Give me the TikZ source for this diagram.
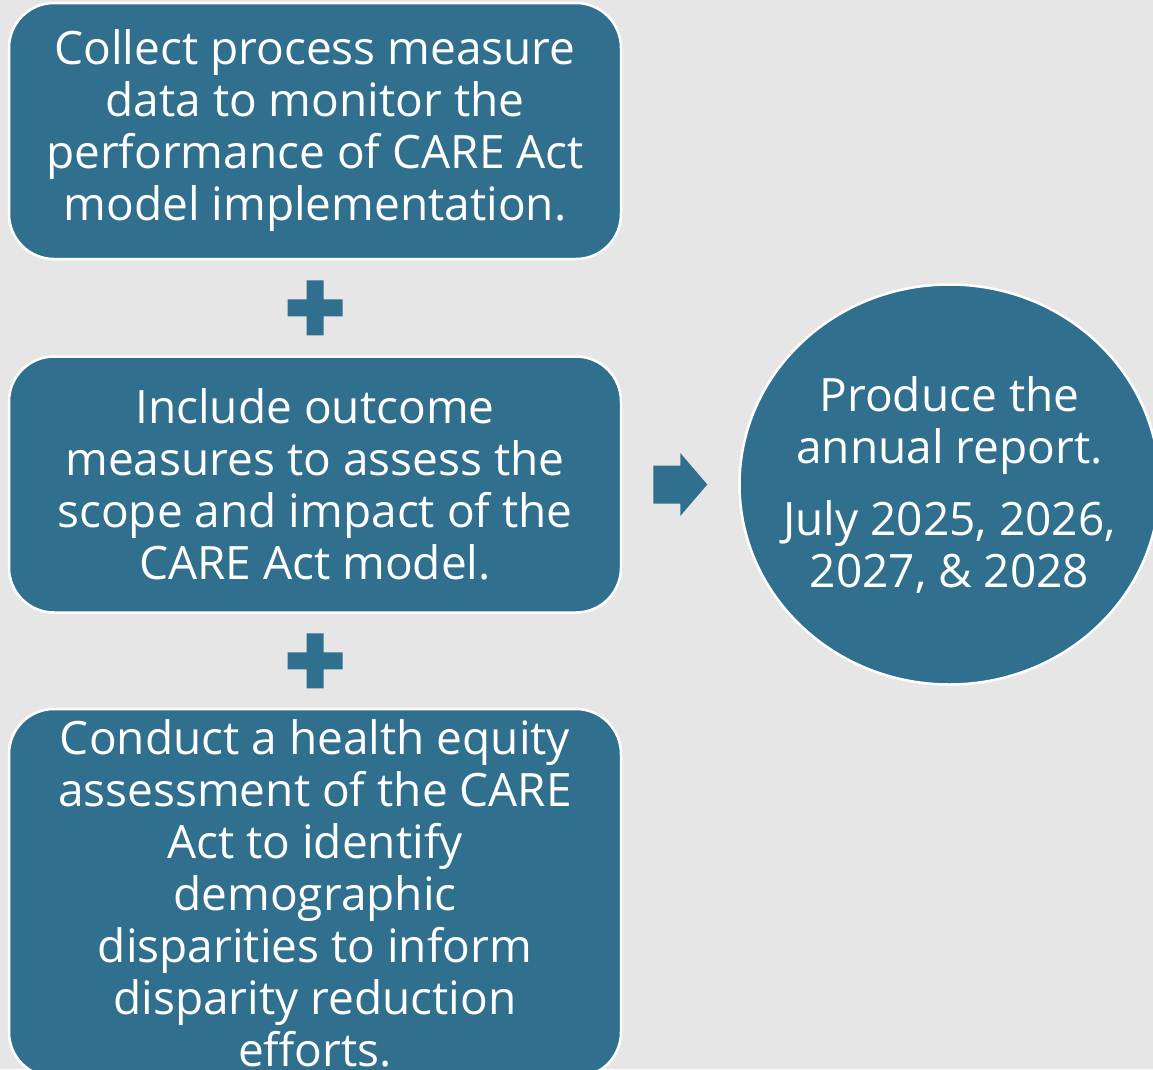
\documentclass[tikz,border=0pt]{standalone}
\usepackage{fontspec}
\setmainfont{Open Sans}
\usepackage{tikz}
\usetikzlibrary{shapes.geometric, positioning, calc}
\definecolor{boxteal}{RGB}{48,111,142}
\definecolor{bggray}{RGB}{230,230,230}

\begin{document}
\begin{tikzpicture}[
  x=1pt, y=-1pt,
  node distance=95pt,
  block/.style={rectangle, rounded corners=45pt, draw=white, line width=2.5pt, fill=boxteal, minimum width=612pt, minimum height=256pt, text=white, font=\fontsize{46}{52}\selectfont, align=center, inner sep=0pt},
  report/.style={ellipse, draw=white, line width=2.5pt, fill=boxteal, minimum width=420pt, minimum height=400pt, inner sep=0pt},
  reporttext/.style={text=white, font=\fontsize{46}{52}\selectfont, align=center, inner sep=0pt},
  plusmark/.style={fill=boxteal}
]
  \clip (0,0) rectangle (1153,1069);
  \fill[bggray] (0,0) rectangle (1153,1069);

  \node[block] (collect) at (315,131) {Collect process measure\\data to monitor the\\performance of CARE Act\\model implementation.};
  \node[block, below=of collect] (outcome) {Include outcome\\measures to assess the\\scope and impact of the\\CARE Act model.};
  \node[block, below=94pt of outcome, minimum height=368pt] (equity) {Conduct a health equity\\assessment of the CARE\\Act to identify\\demographic\\disparities to inform\\disparity reduction\\efforts.};
  \node[report, right=116pt of outcome] (annual) {};
  \node[reporttext] (annualtext) at (annual.center) {Produce the\\annual report.\\[20pt]July 2025, 2026,\\2027, \& 2028};

  % plus signs between the boxes
  \coordinate (plusA) at ($(collect.south)!.5!(outcome.north)$);
  \coordinate (plusB) at ($(outcome.south)!.5!(equity.north)$);
  \foreach \p in {plusA, plusB}
    \fill[plusmark, shift={(\p)}] (-8.5,-27.5) rectangle (8.5,27.5) (-27.5,-8.5) rectangle (27.5,8.5);

  % block arrow to the report
  \coordinate (go) at ($(outcome.east)!.5!(annual.west)$);
  \fill[plusmark, shift={(go)}] (-27,-19) -- (0,-19) -- (0,-31.5) -- (27,0) -- (0,31.5) -- (0,19) -- (-27,19) -- cycle;
\end{tikzpicture}
\end{document}
